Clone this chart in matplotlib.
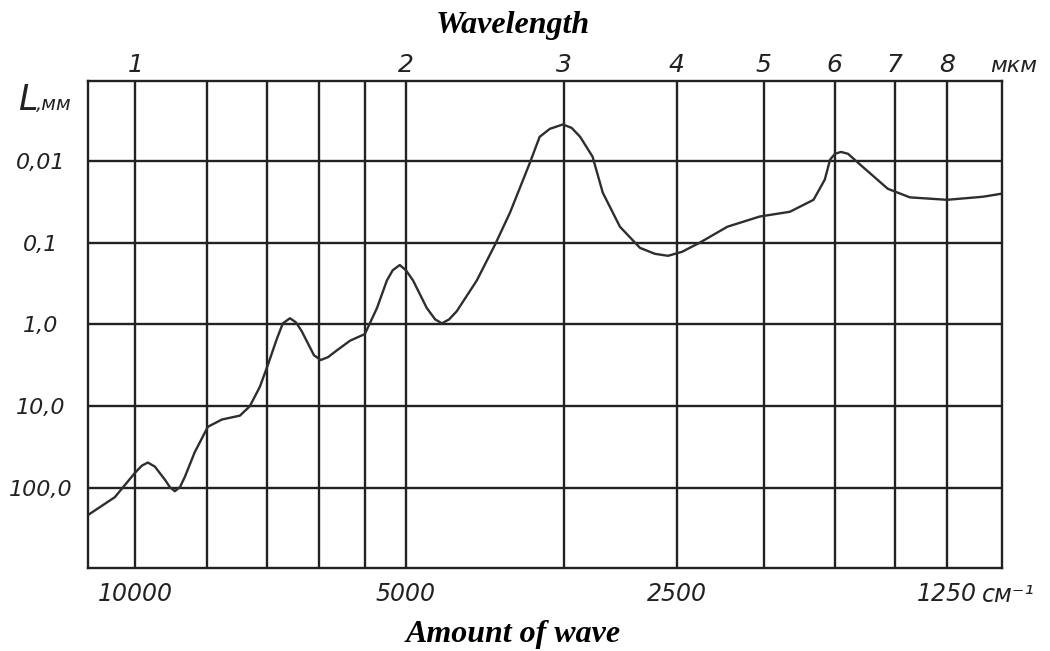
import matplotlib
matplotlib.use("Agg")
import matplotlib.pyplot as plt
from matplotlib.ticker import NullLocator, NullFormatter

# curve: wavenumber (cm^-1) vs. length L (mm)
wavenumber_cm = [11290, 10540, 10010, 9835, 9685, 9512, 9270, 9154, 9040, 8921,
                 8810, 8590, 8305, 8010, 7650, 7460, 7270, 7120, 6960, 6854,
                 6730, 6627, 6530, 6328, 6220, 6105, 5970, 5770, 5555, 5385,
                 5250, 5172, 5080, 5000, 4910, 4740, 4640, 4560, 4476, 4390,
                 4170, 3980, 3830, 3640, 3550, 3458, 3345, 3271, 3200, 3100,
                 3020, 2890, 2745, 2643, 2555, 2465, 2355, 2195, 2020, 1870,
                 1760, 1710, 1687, 1666, 1640, 1611, 1570, 1455, 1375, 1250,
                 1140, 1086]
length_mm = [213, 129, 65, 53.1, 48.7, 54.6, 79, 97.2, 109, 97.2,
             73, 36.5, 17.8, 14.5, 13.0, 10.0, 5.8, 3.1, 1.5, 0.97,
             0.84, 0.944, 1.21, 2.38, 2.72, 2.51, 2.08, 1.58, 1.31, 0.63,
             0.29, 0.2175, 0.188, 0.2175, 0.29, 0.63, 0.866, 0.97, 0.866, 0.69,
             0.29, 0.106, 0.043, 0.0106, 0.0051, 0.00407, 0.0036, 0.00396, 0.0051, 0.0089,
             0.0245, 0.064, 0.116, 0.137, 0.145, 0.1296, 0.1, 0.064, 0.048, 0.042,
             0.030, 0.017, 0.0097, 0.00822, 0.0078, 0.00822, 0.0106, 0.022, 0.028, 0.030,
             0.0275, 0.0252]

grid_wavelength_um = [1, 1.2, 1.4, 1.6, 1.8, 2, 3, 4, 5, 6, 7, 8]
grid_length_mm = [0.01, 0.1, 1, 10, 100]
length_labels = ["0,01", "0,1", "1,0", "10,0", "100,0"]
bottom_ticks_cm = [10000, 5000, 2500, 1250]
bottom_labels = ["10000", "5000", "2500", "1250"]
top_ticks_um = [1, 2, 3, 4, 5, 6, 7, 8]

INK = "#222222"
HAND = dict(family=["DejaVu Sans"], style="italic", color=INK)
TITLE = dict(family="Liberation Serif", style="italic", weight="bold", color="black")

W, H = 1050, 651
fig = plt.figure(figsize=(W / 100, H / 100), dpi=100)
ax = fig.add_axes([88 / W, (H - 568) / H, (1002 - 88) / W, (568 - 81) / H])

ax.set_xscale("log")
ax.set_yscale("log")
ax.set_xlim(11290, 1086)
ax.set_ylim(946, 0.00106)

# -- grid -----------------------------------------------------------------
for lam in grid_wavelength_um:
    ax.axvline(1e4 / lam, color=INK, lw=1.7, zorder=1)
for L in grid_length_mm:
    ax.axhline(L, color=INK, lw=1.7, zorder=1)
for s in ax.spines.values():
    s.set_linewidth(1.7)
    s.set_color(INK)

# -- curve ----------------------------------------------------------------
ax.plot(wavenumber_cm, length_mm, color="#2e2e2e", lw=1.7,
        solid_joinstyle="round", zorder=2)

# -- ticks ----------------------------------------------------------------
ax.set_xticks(bottom_ticks_cm, bottom_labels)
ax.xaxis.set_minor_locator(NullLocator())
ax.xaxis.set_minor_formatter(NullFormatter())
ax.set_yticks(grid_length_mm, length_labels)
ax.yaxis.set_minor_locator(NullLocator())
ax.yaxis.set_minor_formatter(NullFormatter())
ax.tick_params(axis="x", length=0, pad=10)
ax.tick_params(axis="y", length=0, pad=34)
for lbl in ax.get_xticklabels():
    lbl.set(fontsize=17, **HAND)
for lbl in ax.get_yticklabels():
    lbl.set(fontsize=16, ha="center", **HAND)

for lam in top_ticks_um:
    ax.text(1e4 / lam, 1 + 9 / 487, str(lam), transform=ax.get_xaxis_transform(),
            ha="center", va="baseline", fontsize=18, **HAND)

fig.text(990 / W, 1 - 72 / H, "мкм", ha="left", va="baseline", fontsize=16, **HAND)
fig.text(982 / W, 1 - 595 / H, "см⁻¹", ha="left", va="center", fontsize=17, **HAND)
fig.text(18 / W, 1 - 110 / H, "L", ha="left", va="baseline", fontsize=25, **HAND)
fig.text(36 / W, 1 - 110 / H, ",мм", ha="left", va="baseline", fontsize=14, **HAND)

fig.text(513 / W, 1 - 33 / H, "Wavelength", ha="center", va="baseline",
         fontsize=23, **TITLE)
fig.text(513 / W, 1 - 642 / H, "Amount of wave", ha="center", va="baseline",
         fontsize=23, **TITLE)

fig.savefig("out.png", dpi=100)
